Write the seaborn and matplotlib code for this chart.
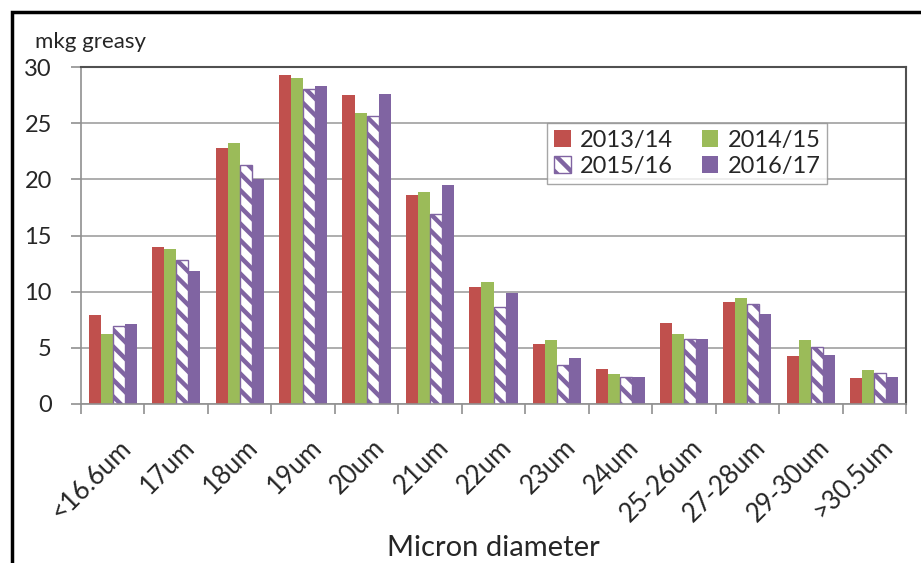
import numpy as np
import pandas as pd
import matplotlib
matplotlib.use("Agg")
import matplotlib.pyplot as plt
from matplotlib.patches import Rectangle
from matplotlib.transforms import ScaledTranslation
import seaborn as sns

# wool production by micron diameter (mkg greasy)
categories = ["<16.6um", "17um", "18um", "19um", "20um", "21um", "22um",
              "23um", "24um", "25-26um", "27-28um", "29-30um", ">30.5um"]
years = ["2013/14", "2014/15", "2015/16", "2016/17"]

y2013 = [7.9, 14.0, 22.8, 29.3, 27.5, 18.6, 10.4, 5.3, 3.1, 7.2, 9.1, 4.3, 2.3]
y2014 = [6.2, 13.8, 23.2, 29.0, 25.9, 18.9, 10.9, 5.7, 2.7, 6.2, 9.4, 5.7, 3.0]
y2015 = [6.9, 12.8, 21.3, 28.0, 25.6, 16.9, 8.6, 3.5, 2.4, 5.8, 8.9, 5.1, 2.8]
y2016 = [7.1, 11.8, 20.0, 28.3, 27.6, 19.5, 9.9, 4.1, 2.4, 5.8, 8.0, 4.4, 2.4]

colors = ["#C0504D", "#9BBB59", "#8064A2", "#8064A2"]

df = pd.DataFrame({
    "size": categories * 4,
    "value": y2013 + y2014 + y2015 + y2016,
    "year": [y for y in years for _ in categories],
})

sns.set_style("white")
plt.rcParams["font.family"] = ["Lato", "DejaVu Sans"]
plt.rcParams["hatch.linewidth"] = 3.2

fig = plt.figure(figsize=(9.21, 5.63), dpi=100)
ax = fig.add_axes([81 / 921, 1 - 404 / 563, 825 / 921, 337 / 563])

sns.barplot(
    data=df, x="size", y="value", hue="year",
    order=categories, hue_order=years,
    palette=colors, saturation=1, width=0.76,
    linewidth=0, legend=False, ax=ax,
)

# 2015/16 drawn as a hatched bar
for bar in ax.containers[2]:
    bar.set_facecolor("white")
    bar.set_edgecolor("#8064A2")
    bar.set_linewidth(1)
    bar.set_hatch("\\\\")

ax.set_ylim(0, 30)
ax.set_yticks(range(0, 31, 5))
ax.yaxis.grid(True, color="#A0A0A0", linewidth=1.2)
ax.set_axisbelow(True)

ax.set_xticks(range(len(categories)))
ax.set_xticklabels(categories, rotation=45, ha="right", rotation_mode="anchor")
ax.set_xticks(np.arange(-0.5, len(categories), 1), minor=True)
ax.tick_params(axis="x", which="major", length=0, pad=22, labelsize=18.5)
ax.tick_params(axis="x", which="minor", length=7, width=1.2, color="#909090",
               direction="out", bottom=True)
ax.tick_params(axis="y", length=7, width=1.2, color="#909090", direction="out",
               left=True, pad=14, labelsize=17)
shift = ScaledTranslation(4 / 72, 0, fig.dpi_scale_trans)
for lab in ax.get_xticklabels():
    lab.set_transform(lab.get_transform() + shift)

ax.set_xlabel("")
ax.set_ylabel("")
fig.text(493.5 / 921, 1 - 556 / 563, "Micron diameter", fontsize=21,
         ha="center", va="baseline")

for side in ["left", "bottom"]:
    ax.spines[side].set_color("#909090")
    ax.spines[side].set_linewidth(1.2)
for side in ["top", "right"]:
    ax.spines[side].set_visible(True)
    ax.spines[side].set_color("#505050")
    ax.spines[side].set_linewidth(1.5)

fig.text(35 / 921, 1 - 42 / 563, "mkg greasy", fontsize=16, va="center")

# legend filled row by row: 2013/14, 2014/15 / 2015/16, 2016/17
order = [0, 2, 1, 3]
ax.legend(
    [ax.containers[i] for i in order], [years[i] for i in order],
    ncol=2, loc="upper left",
    bbox_to_anchor=(0.565, 0.834), borderaxespad=0,
    fontsize=17, frameon=True, fancybox=False, edgecolor="#909090",
    handlelength=0.7, handleheight=0.7, handletextpad=0.4,
    columnspacing=1.2, labelspacing=0.2, borderpad=0.3,
)

# outer chart frame
fig.patches.append(Rectangle((12 / 921, -0.05), 1.1, 1 - 12 / 563 + 0.05,
                             transform=fig.transFigure, fill=False,
                             edgecolor="black", linewidth=2.5))

plt.savefig("out.png", dpi=100)
